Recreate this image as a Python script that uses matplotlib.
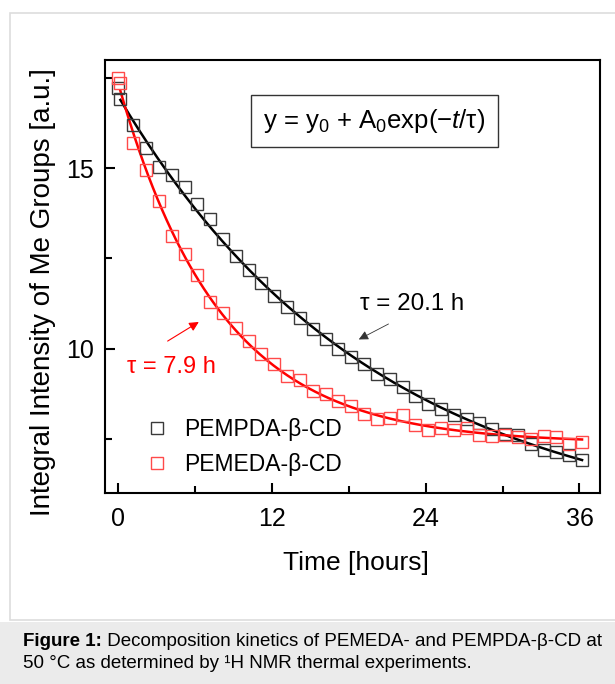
import numpy as np
import matplotlib
matplotlib.use("Agg")
import matplotlib.pyplot as plt
from matplotlib.patches import Rectangle
from matplotlib.ticker import MultipleLocator

plt.rcParams['font.family'] = ['Liberation Sans', 'DejaVu Sans']
plt.rcParams['mathtext.fontset'] = 'custom'
plt.rcParams['mathtext.rm'] = 'Liberation Sans'
plt.rcParams['mathtext.it'] = 'Liberation Sans:italic'

# time points [hours]: first reading, then hourly
time_h = [0.0] + [0.2 + k for k in range(37)]

# PEMPDA-beta-CD (black)
pempda = [17.22, 16.92, 16.21, 15.55, 15.03, 14.82, 14.48, 14.02, 13.60, 13.05,
          12.56, 12.19, 11.82, 11.46, 11.15, 10.84, 10.55, 10.28, 9.99, 9.76,
          9.57, 9.31, 9.17, 8.93, 8.68, 8.46, 8.32, 8.17, 8.05, 7.93,
          7.77, 7.63, 7.60, 7.35, 7.19, 7.14, 7.05, 6.91]

# PEMEDA-beta-CD (red)
pemeda = [17.50, 17.37, 15.70, 14.94, 14.08, 13.11, 12.61, 12.04, 11.30, 10.99,
          10.56, 10.20, 9.84, 9.58, 9.25, 9.12, 8.83, 8.73, 8.55, 8.40,
          8.18, 8.05, 8.07, 8.17, 7.89, 7.75, 7.80, 7.75, 7.81, 7.61,
          7.58, 7.60, 7.54, 7.51, 7.58, 7.56, 7.37, 7.42]

tau_pempda = 20.1
tau_pemeda = 7.9


def exp_fit(t, y, tau):
    # least squares for y0 and A0 with fixed tau
    t = np.asarray(t)
    M = np.column_stack([np.ones_like(t), np.exp(-t / tau)])
    (y0, a0), *_ = np.linalg.lstsq(M, np.asarray(y), rcond=None)
    tt = np.linspace(0.2, 36.2, 200)
    return tt, y0 + a0 * np.exp(-tt / tau)


fig = plt.figure(figsize=(6.15, 6.84), dpi=100)

# panel border and caption background
fig.patches.append(Rectangle((10 / 615, 64 / 684), 1.0, 1 - 77 / 684,
                             transform=fig.transFigure, facecolor='white',
                             edgecolor='#dddddd', linewidth=1.2, zorder=-2))
fig.patches.append(Rectangle((0, 0), 1, 62 / 684, transform=fig.transFigure,
                             facecolor='#ebebeb', edgecolor='none', zorder=-2))

ax = fig.add_axes([105 / 615, 191 / 684, 495 / 615, 433 / 684])
ax.set_facecolor('none')

tb, yb = exp_fit(time_h[1:], pempda[1:], tau_pempda)
tr, yr = exp_fit(time_h[1:], pemeda[1:], tau_pemeda)
ax.plot(tb, yb, color='black', lw=1.8, zorder=3)
ax.plot(tr, yr, color='#ff0000', lw=1.8, zorder=3)

ax.plot(time_h, pempda, ls='none', marker='s', ms=8.3, mfc='none',
        mec='#3a3a3a', mew=1.0, label='PEMPDA-β-CD', zorder=4)
ax.plot(time_h, pemeda, ls='none', marker='s', ms=8.3, mfc='none',
        mec='#ff4a4a', mew=1.0, label='PEMEDA-β-CD', zorder=4)

ax.set_xlim(-1.0, 37.6)
ax.set_ylim(6.0, 18.0)
ax.xaxis.set_major_locator(MultipleLocator(12))
ax.xaxis.set_minor_locator(MultipleLocator(6))
ax.yaxis.set_major_locator(MultipleLocator(5))
ax.yaxis.set_minor_locator(MultipleLocator(2.5))
ax.tick_params(which='both', direction='in', top=False, right=False,
               width=1.5, labelsize=18)
ax.tick_params(which='major', length=7)
ax.tick_params(which='minor', length=5)
ax.tick_params(axis='x', which='major', pad=10)
ax.tick_params(axis='y', which='major', pad=8)
for s in ax.spines.values():
    s.set_linewidth(1.5)

ax.set_xlabel('Time [hours]', fontsize=19)
ax.set_ylabel('Integral Intensity of Me Groups [a.u.]', fontsize=20)
ax.xaxis.set_label_coords(0.507, -0.135)
ax.yaxis.set_label_coords(-0.1, 0.464)

ax.legend(loc='lower left', bbox_to_anchor=(0.035, -0.008), frameon=False,
          fontsize=16.5, handletextpad=0.6, labelspacing=0.5, handlelength=1.2)

ax.text(0.544, 0.859, r'y = y$_0$ + A$_0$exp(−$t$/τ)', transform=ax.transAxes,
        fontsize=18.5, ha='center', va='center',
        bbox=dict(boxstyle='square,pad=0.48', fc='white', ec='#333333', lw=1.0))

ax.text(0.7, 9.5, 'τ = 7.9 h', color='#ff0000', fontsize=17, va='center')
ax.annotate('', xy=(6.5, 10.78), xytext=(3.7, 10.17),
            arrowprops=dict(arrowstyle='-|>', color='#ff0000', lw=0.8,
                            mutation_scale=14))

ax.text(18.9, 11.25, 'τ = 20.1 h', color='black', fontsize=17.4, va='center')
ax.annotate('', xy=(18.6, 10.22), xytext=(21.3, 10.72),
            arrowprops=dict(arrowstyle='-|>', color='#333333', lw=0.6,
                            mutation_scale=14))

# caption
cap = fig.text(23 / 615, 42 / 684, 'Figure 1:', fontsize=13.5, fontweight='bold',
               va='center', ha='left')
ax.annotate(' Decomposition kinetics of PEMEDA- and PEMPDA-β-CD at',
            xy=(1, 0), xycoords=cap, fontsize=13.5, va='bottom', ha='left',
            annotation_clip=False)
fig.text(23 / 615, 21 / 684, '50 °C as determined by ¹H NMR thermal experiments.',
         fontsize=13.5, va='center', ha='left')

fig.savefig('out.png', dpi=100)
